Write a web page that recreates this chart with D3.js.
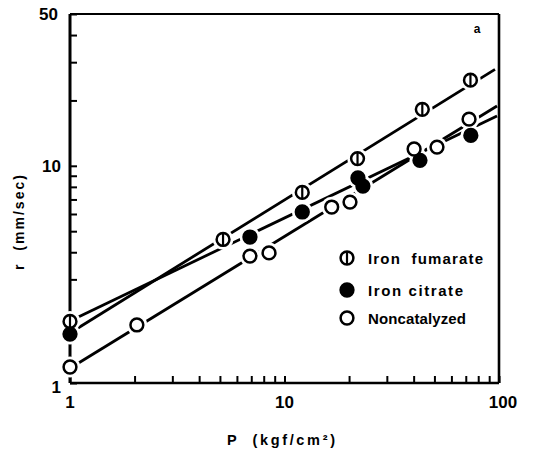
<!DOCTYPE html>
<html><head><meta charset="utf-8">
<script src="https://cdn.jsdelivr.net/npm/d3@7"></script>
<style>
html,body{margin:0;padding:0;background:#fff;}
svg{display:block;}
text{font-family:"Liberation Sans",Arial,Helvetica,sans-serif;font-weight:bold;fill:#000;}
</style></head>
<body>
<script>
// ---- data ----
const seriesNames = ["Iron  fumarate", "Iron citrate", "Noncatalyzed"];
const fumP = [1, 5.17, 12.1, 21.9, 43.9, 73.6];
const fumR = [1.92, 4.58, 7.54, 10.8, 18.2, 24.8];
const citP = [1, 6.9, 12.1, 22.0, 23.2, 42.8, 73.9];
const citR = [1.68, 4.70, 6.13, 8.79, 8.07, 10.6, 13.8];
const nonP = [1, 2.05, 6.9, 8.47, 16.6, 20.2, 40.2, 51.4, 72.5];
const nonR = [1.185, 1.85, 3.84, 3.97, 6.46, 6.81, 11.95, 12.2, 16.4];
// fitted lines (endpoints)
const fumFitP = [1, 95.8], fumFitR = [1.70, 27.8];
const citFitP = [1, 97.9], citFitR = [1.93, 16.95];
const nonFitP = [1, 97.9], nonFitR = [1.17, 18.85];
const xMajor = [1, 10, 100];
const xMinor = [2,3,4,5,6,7,8,9,20,30,40,50,60,70,80,90];
const yMajor = [1, 10, 50];
const yMinor = [2,3,4,5,6,7,8,9,20,30,40];
const xTitle = "P  (kgf/cm²)";
const yTitle = "r  (mm/sec)";
const panelLabel = "a";

// ---- layout ----
const W = 535, H = 453;
const svg = d3.select("body").append("svg").attr("width", W).attr("height", H);
const x = d3.scaleLog().domain([1, 100]).range([70, 499]);
const y = d3.scaleLog().domain([1, 50]).range([383, 14]);

const series = [
  {name: seriesNames[0], P: fumP, R: fumR, fp: fumFitP, fr: fumFitR, type: "half"},
  {name: seriesNames[1], P: citP, R: citR, fp: citFitP, fr: citFitR, type: "filled"},
  {name: seriesNames[2], P: nonP, R: nonR, fp: nonFitP, fr: nonFitR, type: "open"}
];

// frame
const g = svg.append("g");
g.append("line").attr("x1", x(1)).attr("x2", x(100)).attr("y1", y(50)).attr("y2", y(50)).attr("stroke", "#000").attr("stroke-width", 2.2);
g.append("line").attr("x1", x(100)).attr("x2", x(100)).attr("y1", y(50)).attr("y2", y(1)).attr("stroke", "#000").attr("stroke-width", 2.6);

// axes via d3 axis
const xAxis = d3.axisBottom(x).tickValues(xMajor.concat(xMinor)).tickSize(-7).tickFormat("");
const gx = svg.append("g").attr("transform", `translate(0,${y(1)})`).call(xAxis);
gx.select(".domain").attr("stroke-width", 2.6).attr("d", `M${x(1)},0H${x(100)}`);
gx.selectAll(".tick line").attr("stroke-width", 2);

const yAxis = d3.axisLeft(y).tickValues(yMajor.concat(yMinor)).tickSize(-7).tickFormat("");
const gy = svg.append("g").attr("transform", `translate(${x(1)},0)`).call(yAxis);
gy.select(".domain").attr("stroke-width", 3).attr("d", `M0,${y(50)}V${y(1)}`);
gy.selectAll(".tick line").attr("stroke-width", 2);

// tick labels
svg.selectAll(".xl").data(xMajor).enter().append("text")
  .attr("x", d => x(d) + (d === 100 ? 4 : 0)).attr("y", 408)
  .attr("text-anchor", "middle").attr("font-size", 17).text(d => d);
svg.selectAll(".yl").data(yMajor).enter().append("text")
  .attr("x", d => d === 50 ? 58 : 61).attr("y", d => d === 1 ? 393 : y(d) + 6)
  .attr("text-anchor", "end").attr("font-size", 17).text(d => d);

// titles
svg.append("text").attr("x", 227).attr("y", 445).attr("font-size", 14.5).attr("xml:space", "preserve")
  .attr("textLength", 108).attr("lengthAdjust", "spacing").text(xTitle);
svg.append("text").attr("transform", "translate(24,270) rotate(-90)").attr("font-size", 14)
  .attr("xml:space", "preserve").attr("textLength", 95).attr("lengthAdjust", "spacing").text(yTitle);
svg.append("text").attr("x", 477).attr("y", 33).attr("text-anchor", "middle").attr("font-size", 12).text(panelLabel);

// fit lines
const line = d3.line().x(d => x(d[0])).y(d => y(d[1]));
series.forEach(s => {
  svg.append("path").datum(s.fp.map((p, i) => [p, s.fr[i]]))
    .attr("d", line).attr("fill", "none").attr("stroke", "#000").attr("stroke-width", 2.8);
});

// halos
const MR = 6.4;
series.forEach(s => {
  svg.append("g").selectAll("circle").data(s.P.map((p, i) => [p, s.R[i]])).enter()
    .append("circle").attr("cx", d => x(d[0])).attr("cy", d => y(d[1])).attr("r", MR + 4).attr("fill", "#fff");
});

function marker(sel, type) {
  sel.append("circle").attr("r", MR)
    .attr("fill", type === "filled" ? "#000" : "#fff")
    .attr("stroke", "#000").attr("stroke-width", 2.5);
  if (type === "half") {
    sel.append("line").attr("x1", 0).attr("x2", 0).attr("y1", -MR).attr("y2", MR)
      .attr("stroke", "#000").attr("stroke-width", 2.2);
  }
}
series.forEach(s => {
  const gs = svg.append("g").selectAll("g").data(s.P.map((p, i) => [p, s.R[i]])).enter()
    .append("g").attr("transform", d => `translate(${x(d[0])},${y(d[1])})`);
  marker(gs, s.type);
});

// legend
const legY = [258, 290, 318];
const legW = [115, 95, 98];
series.forEach((s, i) => {
  const lg = svg.append("g").attr("transform", `translate(347,${legY[i]})`);
  marker(lg, s.type);
  svg.append("text").attr("x", 368).attr("y", legY[i] + 5.5).attr("font-size", 15)
    .attr("xml:space", "preserve")
    .attr("textLength", legW[i]).attr("lengthAdjust", "spacing").text(s.name);
});
</script>
</body></html>
